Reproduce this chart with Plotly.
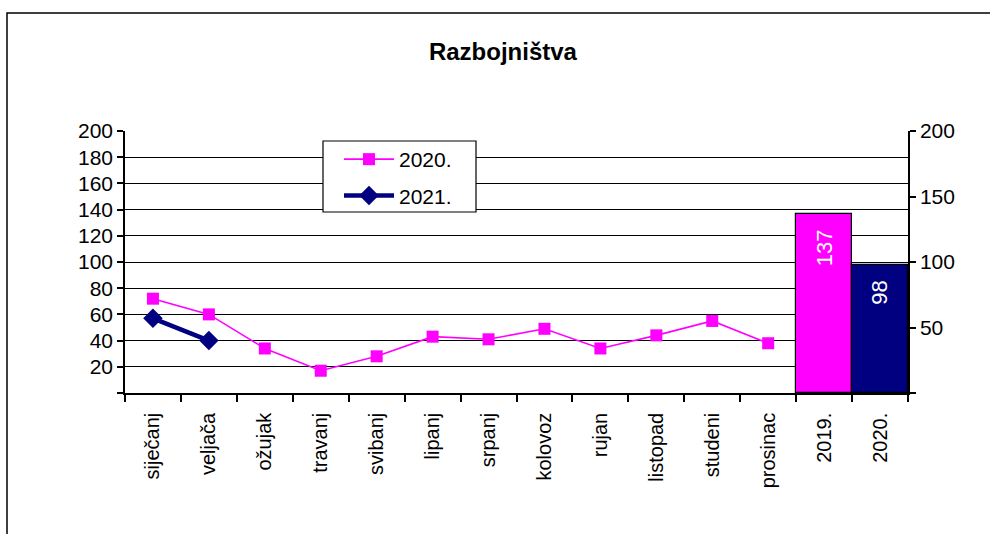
import plotly.graph_objects as go

categories = ["siječanj", "veljača", "ožujak", "travanj", "svibanj", "lipanj",
              "srpanj", "kolovoz", "rujan", "listopad", "studeni", "prosinac",
              "2019.", "2020."]
months = categories[:12]
values_2020 = [72, 60, 34, 17, 28, 43, 41, 49, 34, 44, 55, 38]
values_2021 = [57, 40]
bar_categories = ["2019.", "2020."]
bar_values = [137, 98]
bar_colors = ["#FF00FF", "#000080"]
left_ticks = [0, 20, 40, 60, 80, 100, 120, 140, 160, 180, 200]
right_ticks = [0, 50, 100, 150, 200]

FONT = "Liberation Sans, Arial, sans-serif"

fig = go.Figure()

fig.add_trace(go.Bar(
    x=bar_categories, y=bar_values, yaxis="y2",
    marker=dict(color=bar_colors, line=dict(color="black", width=1.2)),
    width=1.0,
    showlegend=False, hoverinfo="skip",
))

for cat, val in zip(bar_categories, bar_values):
    fig.add_annotation(x=categories.index(cat), y=val, xref="x", yref="y2",
                       text=str(val), showarrow=False, textangle=-90,
                       yanchor="top", yshift=-14,
                       font=dict(color="white", size=22, family=FONT))

fig.add_trace(go.Scatter(
    x=months, y=values_2020, name="2020.", mode="lines+markers",
    line=dict(color="#FF00FF", width=1.6),
    marker=dict(symbol="square", size=12, color="#FF00FF"),
    legendgroup="a",
))
fig.add_trace(go.Scatter(
    x=months[:len(values_2021)], y=values_2021, name="2021.", mode="lines+markers",
    line=dict(color="#000080", width=4.5),
    marker=dict(symbol="diamond", size=15, color="#000080"),
    legendgroup="b",
))

fig.update_layout(
    width=990, height=534,
    margin=dict(l=125, r=82, t=131, b=141),
    paper_bgcolor="white", plot_bgcolor="white",
    font=dict(family=FONT, size=21, color="black"),
    title=dict(text="<b>Razbojništva</b>", x=0.508, xanchor="center",
               y=1 - 52 / 534, yanchor="middle",
               font=dict(family=FONT, size=24, color="black")),
    bargap=0,
    showlegend=True,
    legend=dict(x=(339 - 125) / 783, y=(393 - 139) / 262, xanchor="left", yanchor="top",
                bgcolor="rgba(0,0,0,0)", borderwidth=0,
                font=dict(family=FONT, size=21, color="black"),
                tracegroupgap=6, traceorder="grouped", itemwidth=50),
    xaxis=dict(
        type="category", categoryorder="array", categoryarray=categories,
        range=[-0.5, 13.5],
        tickangle=-90, tickson="boundaries", ticks="outside", ticklen=7,
        tickcolor="black", tickwidth=1.5, ticklabelstandoff=10,
        showline=True, linecolor="black", linewidth=1.5,
        showgrid=False, tickfont=dict(size=20, family=FONT),
    ),
    yaxis=dict(
        range=[0, 200], tickvals=left_ticks,
        ticktext=["" if v == 0 else str(v) for v in left_ticks],
        ticks="outside", ticklen=6, tickcolor="black", tickwidth=1.5,
        showline=True, linecolor="black", linewidth=1.5,
        showgrid=True, gridcolor="black", gridwidth=1,
        zeroline=False, tickfont=dict(size=21, family=FONT),
    ),
    yaxis2=dict(
        range=[0, 200], tickvals=right_ticks,
        ticktext=["" if v == 0 else str(v) for v in right_ticks],
        overlaying="y", side="right",
        ticks="outside", ticklen=6, tickcolor="black", tickwidth=1.5,
        showline=True, linecolor="black", linewidth=1.5,
        showgrid=False, zeroline=False, tickfont=dict(size=21, family=FONT),
    ),
)

# outer chart border
fig.add_shape(type="rect", xref="paper", yref="paper",
              x0=(7 - 125) / 783, x1=1.3,
              y0=-0.7, y1=(393 - 13) / 262,
              line=dict(color="black", width=1.5), layer="below")
# legend frame
fig.add_shape(type="rect", xref="paper", yref="paper",
              x0=(323 - 125) / 783, x1=(476 - 125) / 783,
              y0=(393 - 212) / 262, y1=(393 - 141) / 262,
              line=dict(color="black", width=1.2), fillcolor="white", layer="above")

fig.write_html("out.html", config={"displayModeBar": False},
               post_script="document.body.style.margin='0px';")
